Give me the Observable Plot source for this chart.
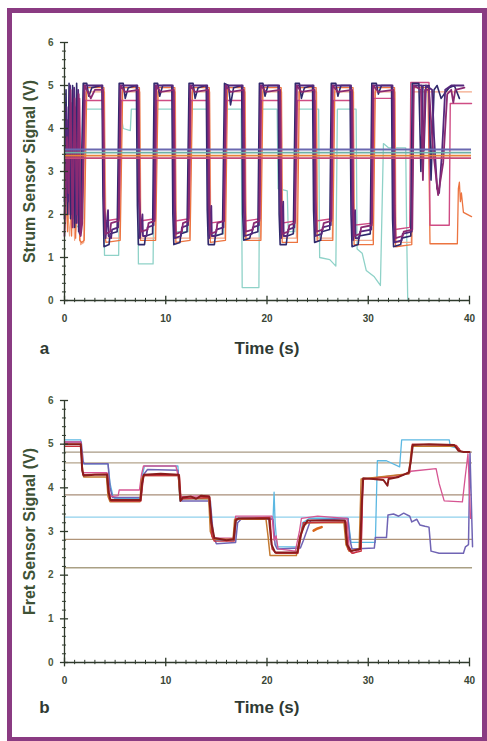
<!DOCTYPE html>
<html><head><meta charset="utf-8">
<script src="https://cdn.jsdelivr.net/npm/d3@7"></script>
<script src="https://cdn.jsdelivr.net/npm/@observablehq/plot@0.6"></script>
<style>
body{margin:0;background:#fff;}
#wrap{position:relative;width:487px;height:741px;overflow:hidden;background:#fff;}
#frame{position:absolute;left:7px;top:8px;width:470px;height:724px;border:5px solid #8a3b82;box-sizing:content-box;}
.panel{position:absolute;left:0;}
</style></head><body>
<div id="wrap"><div id="frame"></div><div id="panelA" class="panel" style="top:0"></div><div id="panelB" class="panel" style="top:370px"></div></div>
<script>
// ---------- axis ticks ----------
const xMajor = [0, 10, 20, 30, 40];
const xMinor = [1,2,3,4,5,6,7,8,9,11,12,13,14,15,16,17,18,19,21,22,23,24,25,26,27,28,29,31,32,33,34,35,36,37,38,39];
const yMajor = [0, 1, 2, 3, 4, 5, 6];
const yMinor = [0.2,0.4,0.6,0.8,1.2,1.4,1.6,1.8,2.2,2.4,2.6,2.8,3.2,3.4,3.6,3.8,4.2,4.4,4.6,4.8,5.2,5.4,5.6,5.8];

// ---------- panel a : strum sensor ----------
const strumNavy = [[0,2.3],[0.15,4.9],[0.3,2.0],[0.45,5.05],[0.6,1.9],[0.8,5.0],[1.0,1.7],[1.2,5.05],[1.4,1.6],[1.55,1.7],
 [1.85,5.05],[2.2,5.05],[2.4,4.75],[2.7,4.95],[3.7,5.0],[3.8,2.4],[3.9,1.25],[4.4,1.3],[4.5,1.55],[5.2,1.6],
 [5.4,5.05],[5.8,5.05],[6.0,4.7],[6.3,4.95],[7.1,5.0],[7.2,2.2],[7.3,1.3],[7.9,1.3],[8.0,1.5],[8.7,1.55],
 [8.85,5.05],[9.2,5.05],[9.4,4.75],[9.7,5.0],[10.6,5.0],[10.7,2.0],[10.8,1.3],[11.4,1.35],[11.5,1.55],[12.1,1.6],
 [12.3,5.05],[12.7,5.05],[12.9,4.7],[13.2,4.95],[14.0,5.0],[14.1,2.1],[14.2,1.3],[14.8,1.3],[14.9,1.5],[15.6,1.55],
 [15.8,5.05],[16.2,5.0],[16.4,4.55],[16.7,4.95],[17.5,5.0],[17.6,2.0],[17.7,1.4],[18.3,1.45],[18.4,1.55],[19.1,1.6],
 [19.25,5.05],[19.6,5.05],[19.8,4.75],[20.1,5.0],[21.1,5.0],[21.2,2.0],[21.3,1.3],[21.9,1.3],[22.0,1.5],[22.6,1.55],
 [22.8,5.05],[23.2,5.05],[23.4,4.7],[23.7,4.95],[24.5,5.0],[24.6,2.1],[24.7,1.35],[25.3,1.4],[25.4,1.6],[26.2,1.65],
 [26.35,5.05],[26.8,5.05],[27.0,4.75],[27.3,5.0],[28.2,5.0],[28.3,2.0],[28.4,1.25],[29.0,1.3],[29.1,1.5],[30.2,1.55],
 [30.35,5.05],[30.8,5.05],[31.0,4.8],[31.3,5.0],[32.3,5.0],[32.4,1.9],[32.5,1.25],[33.2,1.3],[33.3,1.45],[34.2,1.5],
 [34.35,5.05],[35.0,5.05],[35.2,3.0],[35.4,5.0],[36.0,5.0],[36.2,2.8],[36.5,4.9],[36.8,5.0],[37.2,4.7],[37.5,4.8],[38.0,4.95],[38.5,5.0],[39.0,4.7]];
const strumPurple = [[0,1.9],[0.2,4.5],[0.35,2.3],[0.55,5.0],[0.75,2.0],[0.95,4.95],[1.15,1.8],[1.35,4.9],[1.5,1.55],[1.7,1.9],
 [1.95,5.0],[3.75,5.0],[3.9,2.2],[4.0,1.9],[4.05,1.45],[4.3,2.1],[4.35,1.5],[4.6,1.45],[4.7,1.65],[5.3,1.7],
 [5.5,5.0],[7.2,5.0],[7.35,2.3],[7.45,1.45],[7.7,2.0],[7.75,1.5],[8.1,1.5],[8.2,1.7],[8.8,1.75],
 [8.95,5.0],[10.7,5.0],[10.8,2.2],[10.9,1.45],[11.5,1.5],[11.6,1.7],[12.2,1.75],
 [12.4,5.0],[14.1,5.0],[14.2,2.3],[14.3,1.45],[14.5,2.2],[14.55,1.5],[14.9,1.5],[15.0,1.65],[15.7,1.7],
 [15.9,5.0],[17.6,5.0],[17.7,2.2],[17.8,1.5],[18.5,1.55],[18.6,1.7],[19.2,1.75],
 [19.35,5.0],[21.2,5.0],[21.3,2.1],[21.4,1.45],[21.6,2.3],[21.65,1.5],[22.0,1.5],[22.1,1.65],[22.7,1.7],
 [22.9,5.0],[24.6,5.0],[24.7,2.3],[24.8,1.5],[25.4,1.55],[25.5,1.7],[26.3,1.75],
 [26.45,5.0],[28.3,5.0],[28.4,2.2],[28.5,1.4],[28.7,2.1],[28.75,1.45],[29.1,1.45],[29.2,1.6],[30.3,1.65],
 [30.45,5.0],[32.4,5.0],[32.5,2.0],[32.6,1.35],[33.3,1.4],[33.4,1.55],[34.3,1.6],
 [34.45,5.0],[35.3,5.0],[35.5,3.5],[35.7,5.0],[36.3,4.9],[36.5,3.8],[36.8,2.6],[37.0,2.5],[37.3,3.5],[37.6,4.9],[38.2,5.0],[39.4,5.0]];
const strumPlum = [[0,1.5],[0.25,3.8],[0.4,2.5],[0.6,4.9],[0.8,1.7],[1.0,4.7],[1.25,2.0],[1.4,4.8],[1.6,1.5],[1.75,1.8],
 [2.0,5.0],[2.3,4.85],[2.6,4.7],[3.0,4.9],[3.8,4.9],[3.95,2.1],[4.05,1.55],[4.5,1.6],[4.6,1.8],[5.35,1.85],
 [5.55,5.0],[6.0,4.85],[7.3,4.9],[7.4,2.4],[7.55,1.6],[8.2,1.65],[8.3,1.8],[8.9,1.85],
 [9.05,5.0],[9.5,4.85],[10.8,4.9],[10.9,2.3],[11.0,1.55],[11.6,1.6],[11.7,1.8],[12.25,1.85],
 [12.45,5.0],[12.9,4.85],[14.2,4.9],[14.3,2.2],[14.4,1.55],[15.0,1.6],[15.1,1.8],[15.75,1.85],
 [15.95,5.0],[16.4,4.85],[17.7,4.9],[17.8,2.3],[17.9,1.6],[18.6,1.65],[18.7,1.8],[19.25,1.85],
 [19.4,5.0],[19.9,4.85],[21.3,4.9],[21.4,2.2],[21.5,1.55],[22.1,1.6],[22.2,1.75],[22.75,1.8],
 [22.95,5.0],[23.4,4.85],[24.7,4.9],[24.8,2.4],[24.9,1.6],[25.5,1.65],[25.6,1.8],[26.35,1.85],
 [26.5,5.0],[27.0,4.85],[28.4,4.9],[28.5,2.3],[28.6,1.5],[29.2,1.55],[29.3,1.7],[30.35,1.75],
 [30.5,5.0],[31.0,4.85],[32.5,4.9],[32.6,2.2],[32.7,1.45],[33.4,1.5],[33.5,1.6],[34.35,1.65],
 [34.5,5.0],[35.2,4.9],[35.4,2.8],[35.6,4.9],[36.0,4.9],[36.4,3.5],[36.9,2.45],[37.4,3.2],[37.8,4.8],[38.2,4.9],[38.4,4.6],[38.6,4.9],[39.5,4.95]];
const strumPink = [[0,3.0],[0.1,3.8],[0.2,2.4],[0.3,4.2],[0.45,2.0],[0.65,4.6],[0.85,1.9],[1.05,4.5],[1.3,1.8],[1.5,4.7],[1.7,1.75],
 [2.05,4.65],[3.85,4.65],[3.95,1.85],[5.4,1.9],
 [5.6,4.65],[7.35,4.65],[7.45,1.85],[8.95,1.9],
 [9.1,4.65],[10.85,4.65],[10.95,1.85],[12.3,1.9],
 [12.5,4.65],[14.25,4.65],[14.35,1.8],[15.8,1.85],
 [16.0,4.65],[17.75,4.65],[17.85,1.85],[19.3,1.9],
 [19.45,4.65],[21.35,4.65],[21.45,1.8],[22.8,1.85],
 [23.0,4.65],[24.75,4.65],[24.85,1.85],[26.4,1.9],
 [26.55,4.65],[28.45,4.65],[28.55,1.75],[30.4,1.8],
 [30.55,4.7],[32.55,4.7],[32.65,1.65],[34.1,1.7],
 [34.2,5.07],[36.0,5.07],[36.1,1.75],[38.0,1.75],[38.1,4.58],[40.2,4.58]];
const strumOrange = [[0,2.0],[0.15,3.2],[0.3,1.6],[0.5,4.0],[0.7,1.5],[0.9,4.5],[1.1,1.45],[1.3,4.8],[1.5,1.4],[1.7,1.35],[1.95,1.4],
 [2.2,4.95],[3.9,4.95],[4.0,1.5],[4.1,1.35],[5.5,1.4],
 [5.75,4.95],[7.4,4.95],[7.5,1.4],[9.0,1.4],
 [9.25,4.95],[10.9,4.95],[11.0,1.35],[12.4,1.4],
 [12.65,4.95],[14.3,4.95],[14.4,1.35],[15.9,1.4],
 [16.1,4.95],[17.8,4.95],[17.9,1.4],[19.4,1.4],
 [19.6,4.95],[21.4,4.95],[21.5,1.35],[23.0,1.35],
 [23.2,4.95],[24.85,4.95],[24.95,1.4],[26.5,1.4],
 [26.7,4.95],[28.5,4.95],[28.6,1.3],[30.5,1.3],
 [30.7,4.95],[32.6,4.95],[32.7,1.25],[34.3,1.3],
 [34.45,4.95],[35.9,4.95],[36.1,1.32],[38.8,1.32],[38.9,2.6],[39.0,2.75],[39.1,2.3],[39.2,2.5],[39.4,2.05],[40.2,1.95]];
const strumPeach = [[0,1.6],[0.3,2.2],[0.5,1.5],[0.8,2.5],[1.0,1.4],[1.3,2.0],[1.6,1.3],[1.9,1.35],
 [2.1,4.85],[3.95,4.85],[4.1,1.45],[5.45,1.45],
 [5.7,4.85],[7.45,4.85],[7.55,1.45],[8.95,1.45],
 [9.2,4.85],[10.95,4.85],[11.05,1.45],[12.35,1.45],
 [12.6,4.85],[14.35,4.85],[14.45,1.45],[15.85,1.45],
 [16.05,4.85],[17.85,4.85],[17.95,1.45],[19.35,1.45],
 [19.55,4.85],[21.45,4.85],[21.55,1.45],[22.9,1.45],
 [23.1,4.85],[24.9,4.85],[25.0,1.45],[26.45,1.45],
 [26.65,4.85],[28.55,4.85],[28.65,1.4],[30.45,1.4],
 [30.65,4.85],[32.65,4.85],[32.75,1.35],[34.25,1.35],
 [34.4,4.85],[40.2,4.85]];
const strumCyan = [[0,3.5],[0.05,4.1],[0.1,2.7],[0.15,4.0],[0.2,2.9],[0.3,3.8],[0.4,3.0],[0.5,3.5],[0.7,2.0],[0.9,1.8],[1.4,1.7],[1.8,1.9],
 [2.0,4.45],[3.85,4.45],[3.95,1.05],[5.35,1.05],
 [5.5,4.45],[5.8,4.0],[6.5,3.95],[6.6,4.45],[7.2,4.45],[7.3,0.85],[8.75,0.85],
 [8.9,4.45],[10.7,4.45],[10.8,1.6],[12.2,1.6],
 [12.4,4.45],[14.1,4.45],[14.2,1.5],[15.7,1.55],
 [15.9,4.45],[17.45,4.45],[17.55,0.3],[19.2,0.3],
 [19.3,4.45],[21.0,4.45],[21.1,2.6],[22.0,2.55],[22.1,1.6],[22.75,1.6],
 [22.9,4.45],[25.1,4.45],[25.2,1.0],[26.2,0.95],[26.8,0.8],
 [26.95,4.45],[28.8,4.45],[28.9,1.2],[29.4,1.1],[29.8,0.7],[30.6,0.55],[31.2,0.35],[31.5,3.65],[32.0,3.55],[33.7,3.55],[33.8,1.5],[33.9,0.0]];
const strumLevels = [3.51, 3.44, 3.37, 3.31];

// ---------- panel b : fret sensor ----------
const fretDarkRed = [[0,5.0],[1.6,5.0],[1.75,4.4],[1.9,4.28],[3.0,4.3],[4.2,4.3],[4.35,3.9],[4.55,3.72],[7.5,3.72],[7.65,4.1],[7.85,4.3],[9.5,4.32],[11.3,4.3],[11.45,3.7],[11.7,3.78],[12.5,3.8],[13.0,3.75],[13.5,3.82],[14.3,3.8],[14.5,3.2],[14.8,2.85],[16.0,2.8],[16.7,2.82],[16.9,3.25],[17.2,3.3],[20.2,3.3],[20.45,2.7],[20.8,2.52],[23.0,2.52],[23.3,2.9],[23.7,3.15],[24.0,3.25],[27.7,3.25],[27.9,2.7],[28.3,2.55],[29.2,2.6],[29.35,3.6],[29.5,4.22],[30.5,4.2],[31.5,4.18],[31.9,4.05],[32.0,4.2],[33.0,4.25],[34.0,4.35],[34.2,4.6],[34.4,4.98],[36.0,5.0],[38.5,4.98],[38.9,4.85],[39.4,4.82],[40.0,4.82]];
const fretRed = [[0,4.95],[1.65,4.95],[1.8,4.3],[4.25,4.32],[4.45,3.75],[4.6,3.7],[7.55,3.7],[7.8,4.28],[11.35,4.28],[11.5,3.75],[14.35,3.78],[14.55,2.9],[14.8,2.78],[16.75,2.78],[16.95,3.3],[20.3,3.32],[20.5,2.6],[20.9,2.5],[23.05,2.5],[23.6,3.2],[27.8,3.22],[28.0,2.6],[28.4,2.5],[29.3,2.55],[29.45,4.2],[32.8,4.25],[33.5,4.3],[34.1,4.38],[34.35,5.0],[38.7,4.97],[39.1,4.85]];
const fretOrange = [[0,5.0],[1.6,5.0],[1.8,4.35],[1.9,4.25],[4.15,4.25],[4.3,3.8],[4.5,3.68],[7.45,3.68],[7.6,4.2],[7.8,4.28],[11.25,4.28],[11.4,3.75],[14.25,3.75],[14.4,3.0],[14.7,2.82],[16.65,2.82],[16.8,3.28],[19.9,3.28],[20.1,2.9],[20.3,2.45],[22.9,2.45],[23.2,2.8],[23.5,3.1],[24.0,3.2],[27.6,3.2],[27.8,2.7],[28.1,2.55],[29.1,2.6],[29.3,4.2],[34.0,4.32],[34.3,4.95],[38.6,4.95],[39.0,4.85]];
const fretOrangeDash = [[24.6,3.02],[25.0,3.07],[25.4,3.1]];
const fretPink = [[0,5.05],[1.6,5.05],[1.8,4.35],[4.2,4.35],[4.4,3.9],[4.6,3.8],[5.3,3.82],[5.4,3.95],[7.4,3.95],[7.6,4.3],[7.8,4.5],[11.0,4.5],[11.2,4.3],[11.5,3.8],[14.2,3.82],[14.4,3.4],[14.7,2.85],[16.7,2.85],[16.9,3.35],[20.5,3.35],[20.7,2.8],[20.9,2.9],[21.1,2.6],[22.8,2.55],[23.2,3.0],[23.4,3.3],[25.0,3.35],[27.9,3.3],[28.1,2.65],[28.5,2.5],[29.3,2.6],[29.5,4.2],[34.0,4.32],[34.2,4.38],[36.7,4.44],[37.0,4.1],[37.5,3.7],[39.3,3.68],[39.6,4.3],[39.85,4.78],[40.1,3.3]];
const fretSlate = [[0,5.05],[1.65,5.05],[1.85,4.6],[1.95,4.55],[4.3,4.55],[4.5,4.0],[4.75,3.78],[7.55,3.78],[7.8,4.3],[8.2,4.42],[11.2,4.4],[11.4,3.85],[11.6,3.7],[14.4,3.7],[14.7,2.9],[15.0,2.72],[16.9,2.75],[17.1,3.2],[17.5,3.3],[20.6,3.28],[20.8,2.7],[21.0,2.6],[23.3,2.62],[23.6,2.8],[24.3,3.25],[28.0,3.3],[28.2,2.8],[28.4,2.6],[30.6,2.62],[30.7,2.86],[31.8,2.86],[31.95,3.38],[32.5,3.4],[33.0,3.35],[33.5,3.42],[34.1,3.35],[34.3,3.22],[34.8,3.28],[35.1,3.15],[35.6,3.12],[36.0,3.1],[36.2,2.55],[37.0,2.5],[39.4,2.5],[39.6,2.65],[39.9,2.7],[40.05,4.8],[40.3,2.65]];
const fretCyan = [[0,5.1],[1.6,5.1],[1.75,4.6],[1.9,4.55],[4.3,4.55],[4.5,4.1],[4.8,3.8],[5.0,3.75],[7.5,3.75],[7.7,4.3],[7.9,4.5],[11.2,4.5],[11.4,3.7],[11.7,3.75],[14.3,3.75],[14.6,3.0],[14.9,2.8],[16.8,2.8],[17.0,3.3],[20.6,3.3],[20.7,3.9],[20.8,3.2],[21.0,2.65],[23.2,2.65],[23.5,3.2],[24.2,3.3],[28.0,3.3],[28.3,2.75],[30.7,2.75],[30.9,4.62],[31.8,4.62],[33.1,4.48],[33.3,5.1],[38.0,5.1],[38.1,4.95],[39.0,4.9]];
const fretLevels = [4.82, 4.57, 3.84, 2.82, 2.17];
const fretCyanLevel = [3.33];

// ---------- drawing ----------
const axisColor = "#2f3a2c";
const tickText = "#4c5a3c";
const font = "'Liberation Sans',Arial,sans-serif";
const xy = {x: d => d[0], y: d => d[1], strokeLinejoin: "round", strokeLinecap: "round"};

function frameMarks(yTitle, letter, titleDy) {
  return [
    Plot.ruleX([0], {y1: 0, y2: 6, stroke: axisColor, strokeWidth: 1.3}),
    Plot.ruleY([0], {x1: 0, x2: 40, stroke: axisColor, strokeWidth: 1.3}),
    Plot.ruleY(yMinor, {x1: -0.2, x2: 0.2, stroke: axisColor}),
    Plot.ruleY(yMajor, {x1: -0.4, x2: 0.4, stroke: axisColor, strokeWidth: 1.3}),
    Plot.ruleX(xMinor, {y1: -0.05, y2: 0.05, stroke: axisColor}),
    Plot.ruleX(xMajor, {y1: -0.1, y2: 0.1, stroke: axisColor, strokeWidth: 1.3}),
    Plot.axisY({ticks: yMajor, tickFormat: d3.format("d"), tickSize: 0, tickPadding: 11, fontSize: 10, fontWeight: "bold", color: tickText, label: null}),
    Plot.axisX({ticks: xMajor, tickFormat: d3.format("d"), tickSize: 0, tickPadding: 14, fontSize: 10, fontWeight: "bold", color: "#3a4636", label: null}),
    Plot.text([yTitle], {frameAnchor: "left", dx: -35, rotate: -90, textAnchor: "middle", lineAnchor: "middle", fontSize: 16, fontWeight: "bold", fill: "#3e5236"}),
    Plot.text(["Time (s)"], {frameAnchor: "bottom", dy: titleDy, textAnchor: "middle", lineAnchor: "middle", fontSize: 17, fontWeight: "bold", fill: "#2f3a33"}),
    Plot.text([letter], {frameAnchor: "bottom-left", dx: -20, dy: titleDy, textAnchor: "middle", lineAnchor: "middle", fontSize: 17, fontWeight: "bold", fill: "#2f3a33"})
  ];
}

const plotA = Plot.plot({
  width: 487, height: 370, marginLeft: 64, marginRight: 18, marginTop: 42, marginBottom: 70,
  x: {domain: [0, 40], axis: null}, y: {domain: [0, 6], axis: null},
  style: {background: "transparent", overflow: "visible", fontFamily: font},
  marks: [
    Plot.line(strumCyan, {...xy, stroke: "#8fd2c8", strokeWidth: 1.3}),
    Plot.line(strumPeach, {...xy, stroke: "#f3a888", strokeWidth: 1.2}),
    Plot.line(strumOrange, {...xy, stroke: "#ec7440", strokeWidth: 1.3}),
    Plot.line(strumPink, {...xy, stroke: "#cf4c84", strokeWidth: 1.4}),
    Plot.line(strumNavy, {...xy, stroke: "#30296c", strokeWidth: 1.6}),
    Plot.line(strumPurple, {...xy, stroke: "#55287c", strokeWidth: 1.8}),
    Plot.line(strumPlum, {...xy, stroke: "#8a2a72", strokeWidth: 1.8}),
    Plot.ruleY(strumLevels, {x1: 0, x2: 40.2, stroke: ["#6a68b0", "#6fb0a6", "#e8843a", "#c44a78"], strokeWidth: 1.9}),
    ...frameMarks("Strum Sensor Signal (V)", "a", 48)
  ]
});
document.getElementById("panelA").append(plotA);

const plotB = Plot.plot({
  width: 487, height: 371, marginLeft: 64, marginRight: 18, marginTop: 30, marginBottom: 79,
  x: {domain: [0, 40], axis: null}, y: {domain: [0, 6], axis: null},
  style: {background: "transparent", overflow: "visible", fontFamily: font},
  marks: [
    Plot.ruleY(fretLevels, {x1: 0, x2: 40.3, stroke: ["#a89a84", "#b4a48c", "#a88e78", "#b09478", "#aaa084"], strokeWidth: 1.3}),
    Plot.ruleY(fretCyanLevel, {x1: 0, x2: 40.3, stroke: "#8fd0ec", strokeWidth: 1.3}),
    Plot.line(fretCyan, {...xy, stroke: "#5cb8e2", strokeWidth: 1.3}),
    Plot.line(fretSlate, {...xy, stroke: "#7064b4", strokeWidth: 1.5}),
    Plot.line(fretPink, {...xy, stroke: "#d65592", strokeWidth: 1.3}),
    Plot.line(fretOrange, {...xy, stroke: "#c47a30", strokeWidth: 1.5}),
    Plot.line(fretRed, {...xy, stroke: "#c8323c", strokeWidth: 1.4}),
    Plot.line(fretDarkRed, {...xy, stroke: "#8a1c1c", strokeWidth: 2}),
    Plot.line(fretOrangeDash, {...xy, stroke: "#d8661a", strokeWidth: 2.5}),
    ...frameMarks("Fret Sensor Signal (V)", "b", 45)
  ]
});
document.getElementById("panelB").append(plotB);
</script>
</body></html>
